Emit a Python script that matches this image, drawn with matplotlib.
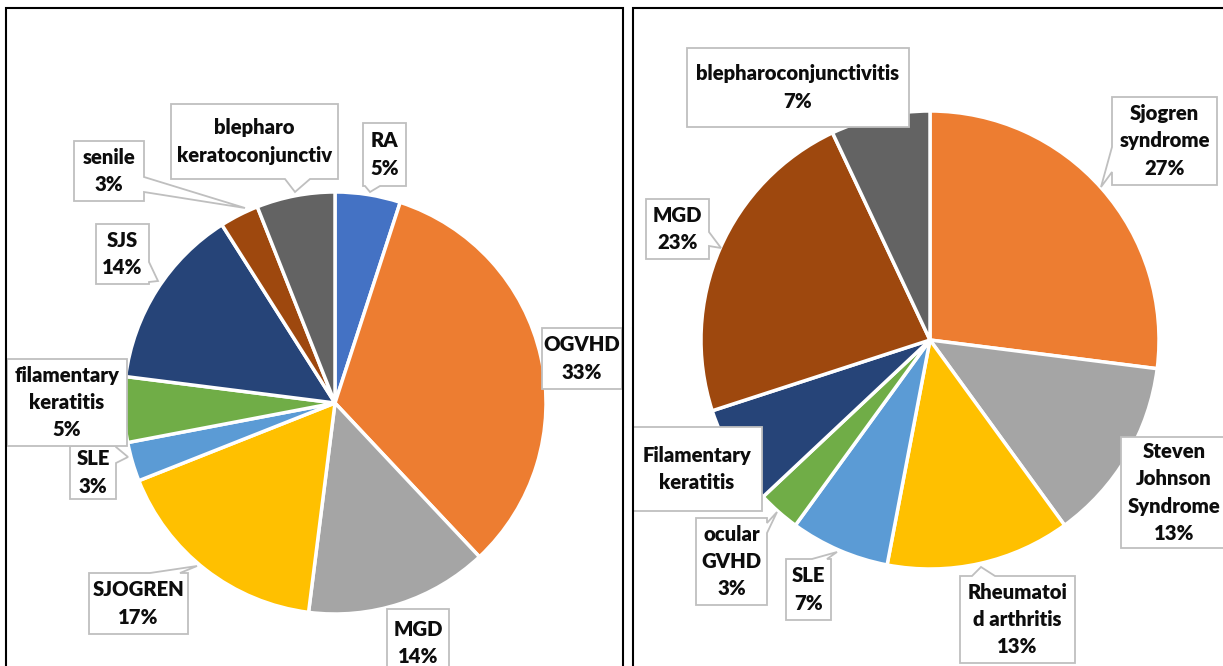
import matplotlib
matplotlib.use("Agg")
import matplotlib.pyplot as plt
from matplotlib.patches import Polygon, Rectangle

# ---------------- data ----------------
left_categories = ["RA", "OGVHD", "MGD", "SJOGREN", "SLE",
                   "filamentary\nkeratitis", "SJS", "senile",
                   "blepharo\nkeratoconjunctiv"]
left_values = [5, 33, 14, 17, 3, 5, 14, 3, 6]
left_show_pct = [True, True, True, True, True, True, True, True, False]
left_colors = ["#4472C4", "#ED7D31", "#A5A5A5", "#FFC000", "#5B9BD5",
               "#70AD47", "#264478", "#9E480E", "#636363"]

right_categories = ["Sjogren\nsyndrome", "Steven\nJohnson\nSyndrome",
                    "Rheumatoi\nd arthritis", "SLE", "ocular\nGVHD",
                    "Filamentary\nkeratitis", "MGD", "blepharoconjunctivitis"]
right_values = [27, 13, 13, 7, 3, 7, 23, 7]
right_show_pct = [True, True, True, True, True, False, True, True]
right_colors = ["#ED7D31", "#A5A5A5", "#FFC000", "#5B9BD5", "#70AD47",
                "#264478", "#9E480E", "#636363"]

# ---------------- layout (pixel units, y downwards) ----------------
W, H = 1223, 666
left_pie = dict(cx=335, cy=403, r=211)
right_pie = dict(cx=930, cy=340, r=229)

# callout boxes: (x0, y0, x1, y1, pointer side, base a, base b, tip)
left_boxes = [
    (363, 123, 406, 186, "bottom", 365, 380, (370, 192)),
    (542, 328, 622, 389, None, 0, 0, None),
    (387, 609, 449, 677, None, 0, 0, None),
    (89, 573, 188, 634, "top", 150, 180, (197, 566)),
    (70, 446, 116, 499, "right", 447, 463, (128, 457)),
    (7, 359, 127, 446, None, 0, 0, None),
    (96, 224, 149, 284, "right", 262, 282, (158, 281)),
    (74, 141, 144, 201, "right", 177, 192, (245, 208)),
    (171, 104, 338, 179, "bottom", 285, 310, (295, 192)),
]
right_boxes = [
    (1112, 97, 1217, 185, "left", 147, 172, (1101, 187)),
    (1121, 437, 1227, 548, None, 0, 0, None),
    (960, 576, 1075, 663, "top", 972, 995, (981, 567)),
    (786, 559, 831, 620, "top", 812, 827, (837, 552)),
    (696, 518, 767, 605, "right", 523, 533, (777, 512)),
    (632, 427, 762, 511, None, 0, 0, None),
    (646, 199, 709, 259, "right", 232, 246, (721, 248)),
    (687, 48, 909, 127, None, 0, 0, None),
]
left_frame = (5.5, 7.5, 622.5, 720)
right_frame = (632.5, 7.5, 1260, 720)

FONT = ["Lato", "DejaVu Sans"]
FONT_SIZE = 14.6
FONT_WEIGHT = "heavy"
LINE_SPACING = 1.52
BOX_EDGE = "#BFBFBF"


def Y(y):
    return H - y


def callout_vertices(x0, y0, x1, y1, side, a, b, tip):
    pts = [(x0, y0)]
    if side == "top":
        pts += [(a, y0), tip, (b, y0)]
    pts.append((x1, y0))
    if side == "right":
        pts += [(x1, a), tip, (x1, b)]
    pts.append((x1, y1))
    if side == "bottom":
        pts += [(b, y1), tip, (a, y1)]
    pts.append((x0, y1))
    if side == "left":
        pts += [(x0, b), tip, (x0, a)]
    return [(x, Y(y)) for x, y in pts]


fig = plt.figure(figsize=(W / 100, H / 100), dpi=100)
ax = fig.add_axes([0, 0, 1, 1])


def draw_panel(frame, pie, cats, vals, show, colors, boxes):
    fx0, fy0, fx1, fy1 = frame
    clip = Rectangle((fx0, Y(fy1)), fx1 - fx0, fy1 - fy0,
                     transform=ax.transData, visible=False)
    ax.add_patch(clip)
    ax.pie(vals, colors=colors, startangle=90, counterclock=False,
           center=(pie["cx"], Y(pie["cy"])), radius=pie["r"],
           wedgeprops=dict(edgecolor="white", linewidth=2.5),
           frame=True)
    total = sum(vals)
    for cat, v, s, box in zip(cats, vals, show, boxes):
        x0, y0, x1, y1, side, a, b, tip = box
        poly = Polygon(callout_vertices(x0, y0, x1, y1, side, a, b, tip),
                       closed=True, facecolor="white", edgecolor=BOX_EDGE,
                       linewidth=1.3, joinstyle="miter", zorder=5)
        ax.add_patch(poly)
        poly.set_clip_path(clip)
        label = f"{cat}\n{round(100 * v / total)}%" if s else cat
        t = ax.text((x0 + x1) / 2, Y((y0 + y1) / 2), label, ha="center",
                    va="center", multialignment="center", fontsize=FONT_SIZE,
                    fontweight=FONT_WEIGHT, family=FONT, color="#0D0D0D",
                    linespacing=LINE_SPACING, zorder=6)
        t.set_clip_path(clip)
    ax.add_patch(Rectangle((fx0, Y(fy1)), fx1 - fx0, fy1 - fy0,
                           facecolor="none", edgecolor="black",
                           linewidth=1.5, zorder=10))


draw_panel(left_frame, left_pie, left_categories, left_values, left_show_pct,
           left_colors, left_boxes)
draw_panel(right_frame, right_pie, right_categories, right_values,
           right_show_pct, right_colors, right_boxes)

ax.set_xlim(0, W)
ax.set_ylim(0, H)
ax.set_aspect("auto")
ax.axis("off")
fig.savefig("out.png", dpi=100, facecolor="white")
